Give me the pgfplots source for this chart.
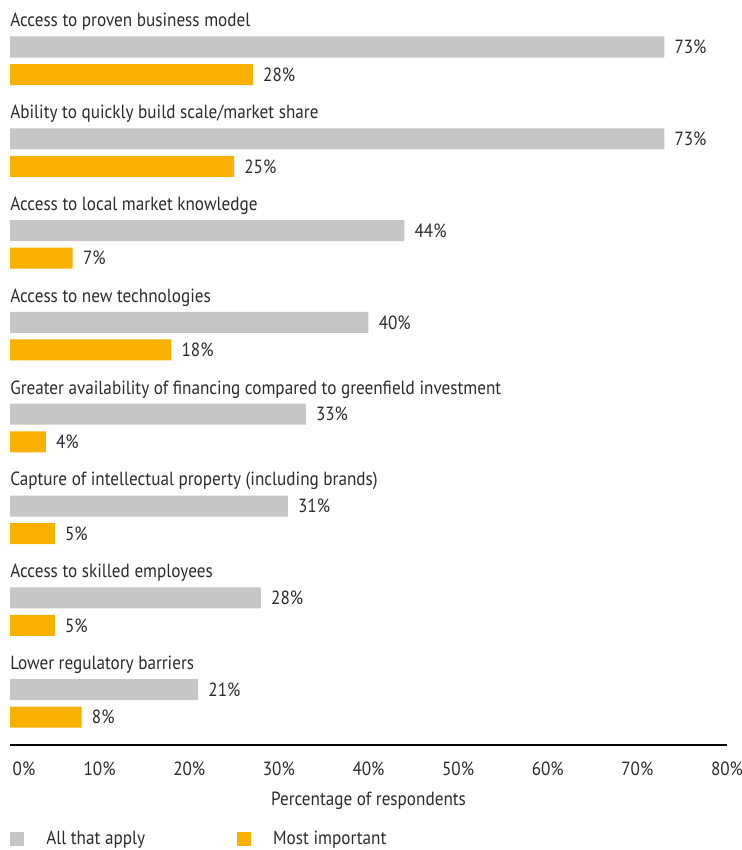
\documentclass[border=0pt]{standalone}
\usepackage{fontspec}
\setmainfont{PT Sans}[FakeStretch=0.90]
\usepackage{pgfplots}
\pgfplotsset{compat=1.18}
\definecolor{gbar}{HTML}{C6C6C6}
\definecolor{obar}{HTML}{F9B000}
\definecolor{txt}{HTML}{2B2B2B}
\begin{document}
\begin{tikzpicture}[font=\fontsize{14.3}{17}\selectfont, text=txt]
\begin{axis}[name=ax, scale only axis, width=537.75pt, height=558.75pt,
  xmin=0, xmax=80, ymin=-7.603, ymax=0.512,
  axis x line=bottom, axis y line=none,
  x axis line style={-, line width=1.1pt, black},
  ytick=\empty,
  xtick={10,20,...,80},
  extra x ticks={0}, extra x tick labels={0\%},
  extra x tick style={xticklabel style={anchor=base west, xshift=-1.5pt}},
  xticklabel={\pgfmathprintnumber{\tick}\%},
  /pgf/number format/assume math mode=true,
  major tick length=0pt,
  xticklabel style={anchor=base, yshift=-23.25pt, text=txt},
  xlabel={Percentage of respondents},
  xlabel style={at={(axis description cs:0.5,0)}, anchor=base, yshift=-45pt, text=txt},
  legend style={at={(axis description cs:0,0)}, anchor=west, yshift=-70.5pt,
    draw=none, fill=none, legend columns=2, inner sep=0pt,
    nodes={inner sep=0pt, anchor=west, text=txt},
    /tikz/every odd column/.append style={column sep=16.5pt},
    /tikz/every even column/.append style={column sep=69pt}},
  legend image code/.code={\path[#1,draw=none] (0pt,-5.25pt) rectangle (10.5pt,5.25pt);},
  clip=false,
]
\addplot[xbar, bar shift=0pt, bar width=0.229, fill=gbar, draw=none,
  point meta=explicit symbolic, nodes near coords={\pgfplotspointmeta\%},
  nodes near coords style={anchor=west, inner sep=0pt, xshift=7.5pt, text=txt}]
  coordinates {(73,0) [73] (73,-1) [73] (44,-2) [44] (40,-3) [40] (33,-4) [33] (31,-5) [31] (28,-6) [28] (21,-7) [21]};
\addlegendentry{All that apply}
\addplot[xbar, bar shift=0pt, bar width=0.229, fill=obar, draw=none,
  point meta=explicit symbolic, nodes near coords={\pgfplotspointmeta\%},
  nodes near coords style={anchor=west, inner sep=0pt, xshift=7.5pt, text=txt}]
  coordinates {(27.1,-0.3) [28] (25,-1.3) [25] (7,-2.3) [7] (18,-3.3) [18] (4,-4.3) [4] (5,-5.3) [5] (5,-6.3) [5] (8,-7.3) [8]};
\addlegendentry{Most important}
\node[anchor=base west, inner sep=0pt] at (axis cs:0,0.22) {Access to proven business model};
\node[anchor=base west, inner sep=0pt] at (axis cs:0,-0.78) {Ability to quickly build scale/market share};
\node[anchor=base west, inner sep=0pt] at (axis cs:0,-1.78) {Access to local market knowledge};
\node[anchor=base west, inner sep=0pt] at (axis cs:0,-2.78) {Access to new technologies};
\node[anchor=base west, inner sep=0pt] at (axis cs:0,-3.78) {Greater availability of financing compared to greenfield investment};
\node[anchor=base west, inner sep=0pt] at (axis cs:0,-4.78) {Capture of intellectual property (including brands)};
\node[anchor=base west, inner sep=0pt] at (axis cs:0,-5.78) {Access to skilled employees};
\node[anchor=base west, inner sep=0pt] at (axis cs:0,-6.78) {Lower regulatory barriers};
\end{axis}
\pgfresetboundingbox
\path[use as bounding box] ([shift={(-7.5pt,-78.75pt)}]ax.south west) rectangle ([shift={(11.25pt,0pt)}]ax.north east);
\end{tikzpicture}
\end{document}
